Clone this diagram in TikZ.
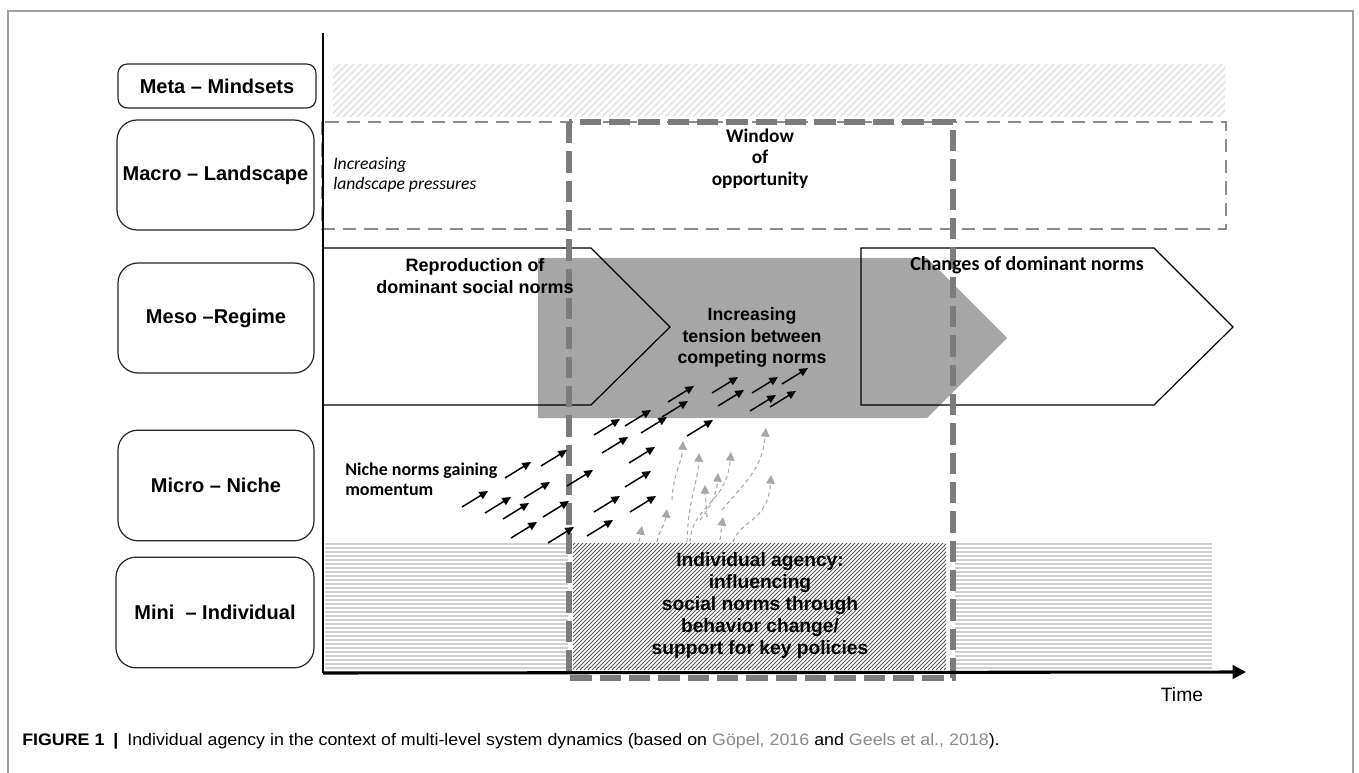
\documentclass[tikz,border=0pt]{standalone}
\usepackage{fontspec}
\usepackage{graphicx}
\setmainfont{Liberation Sans}
\newfontfamily\calib{Carlito}
\usetikzlibrary{arrows.meta}
\definecolor{framegray}{HTML}{A0A0A0}
\definecolor{arrowgray}{HTML}{A6A6A6}
\definecolor{wingray}{HTML}{7C7C7C}
\definecolor{macrogray}{HTML}{8C8C8C}
\definecolor{hatchlight}{HTML}{E2E2E2}
\definecolor{hlines}{HTML}{CFCFCF}
\definecolor{hatchdark}{HTML}{5A5A5A}
\definecolor{gdashc}{HTML}{A8A8A8}
\definecolor{citec}{HTML}{8A8A8A}
\tikzset{
  lvl/.style={draw=black!85, line width=0.9pt, rounded corners=15pt, inner sep=0pt,
    font=\bfseries\fontsize{15}{17}\selectfont, align=center},
  blk/.style={-{Triangle[length=6.5pt,width=6pt]}, line width=1.1pt, black},
  gdash/.style={-{Triangle[length=6.5pt,width=6.5pt]}, gdashc, line width=0.8pt, dash pattern=on 3pt off 2.5pt},
  arialtxt/.style={font=\bfseries\fontsize{13.3}{16.3}\selectfont, align=center, inner sep=0pt},
  caltxt/.style={font=\calib\bfseries\fontsize{14.5}{16}\selectfont, align=center, inner sep=0pt},
}
\begin{document}
\begin{tikzpicture}[x=0.75pt,y=-0.75pt]
\useasboundingbox (0,0) rectangle (1359,773);
% frame
\draw[framegray, line width=0.8pt] (8,773) -- (8,11) -- (1353,11) -- (1353,773);

% level boxes
\node[lvl, rounded corners=7pt, minimum width=148.5pt, minimum height=33pt] (meta) at (217,86) {Meta – Mindsets};
\node[lvl, minimum width=147.75pt, minimum height=82.5pt] (macro) at (215.5,175) {Macro – Landscape};
\node[lvl, minimum width=147pt, minimum height=82.5pt] (meso) at (216,318) {Meso –Regime};
\node[lvl, minimum width=147pt, minimum height=83pt] (micro) at (216,485.5) {Micro – Niche};
\node[lvl, minimum width=148.5pt, minimum height=83pt] (mini) at (215,612.5) {Mini\ \ – Individual};

% meta hatched band
\begin{scope}
\clip (333,65) rectangle (1225,117);
\foreach \k in {0,...,140} {
  \draw[hatchlight, line width=1.1pt] ({280+\k*7},117) -- ++(56,-56);
}
\end{scope}

% macro dashed rectangle
\draw[macrogray, line width=1.6pt, dash pattern=on 10pt off 6pt] (322,122) rectangle (1226,229);

% gray big arrow
\fill[arrowgray] (538,258) -- (927,258) -- (1007,338) -- (927,418) -- (538,418) -- cycle;

% pentagons
\draw[line width=0.9pt] (323,248) -- (591,248) -- (670,327) -- (591,405) -- (323,405);
\draw[line width=0.9pt] (861,248) -- (1154,248) -- (1233,327) -- (1154,405) -- (861,405) -- cycle;

% mini band horizontal lines
\foreach \k in {0,...,31} {
  \draw[hlines, line width=0.8pt] (325,{544+\k*4}) -- (568,{544+\k*4});
  \draw[hlines, line width=0.8pt] (955,{544+\k*4}) -- (1212,{544+\k*4});
}

% individual hatched box
\begin{scope}
\clip (573,543) rectangle (946,670);
\foreach \k in {0,...,130} {
  \draw[hatchdark, line width=0.7pt] ({440+\k*4},670) -- ++(130,-130);
}
\end{scope}

% window of opportunity
\draw[wingray, line width=4.5pt, dash pattern=on 16pt off 6pt] (569,122) rectangle (953,678);

% axes
\coordinate (top) at (323,33);
\coordinate (O) at (323,673);
\coordinate (tend) at (1246,672);
\draw[line width=1.1pt] (top) -- (O);
\draw[line width=2.3pt, -{Triangle[length=10pt,width=10pt]}] (O) -- (tend);

% texts
\node[anchor=west, align=left, inner sep=0pt, font=\calib\itshape\fontsize{13.2}{15}\selectfont] (press) at (333,175) {Increasing\\landscape pressures};
\node[caltxt] (window) at (760,158.5) {Window\\of\\opportunity};
\node[arialtxt, font=\bfseries\fontsize{13.5}{16.5}\selectfont] (repro) at (475,276) {Reproduction of\\dominant social norms};
\node[caltxt, font=\calib\bfseries\fontsize{15}{17}\selectfont] (changes) at (1027,265) {Changes of dominant norms};
\node[arialtxt] (tension) at (752,337.5) {Increasing\\tension between\\competing norms};
\node[anchor=west, align=left, inner sep=0pt, font=\calib\bfseries\fontsize{13.5}{15}\selectfont] (niche) at (345,479) {Niche norms gaining\\momentum};
\node[arialtxt, font=\bfseries\fontsize{14.4}{16.5}\selectfont] (agency) at (760,606) {Individual agency:\\influencing\\social norms through\\behavior change/\\support for key policies};
\node[inner sep=0pt, font=\fontsize{14.5}{17}\selectfont] (time) at (1182,695) {Time};
\node[anchor=west, inner sep=0pt, font=\fontsize{12.5}{14}\selectfont] (cap) at (22,741) {\scalebox{1.07}[1]{\textbf{FIGURE 1}\enspace\textbf{|}\enspace Individual agency in the context of multi-level system dynamics (based on \textcolor{citec}{Göpel, 2016} and \textcolor{citec}{Geels et al., 2018}).}};

% black arrows
\foreach \x/\y in {462/507,505/478,541/466,485/513,524/498,503/519,543/517,511/538,548/543,567/486,594/435,602/453,625/426,641/433,629/463,625/487,594/512,630/512,587/536,668/402,662/417,687/436,712/393,718/406,752/393,750/411,770/407,782/384} {
  \draw[blk] (\x,\y) -- ++(26,-16);
}

% gray dashed arrows
\draw[gdash] (639,542) -- (642,526);
\draw[gdash] (657,542) .. controls (659,530) and (665,525) .. (667,509);
\draw[gdash] (672,500) .. controls (673,475) and (682,462) .. (683,441);
\draw[gdash] (687,542) .. controls (688,500) and (698,482) .. (699,453);
\draw[gdash] (690,542) .. controls (692,505) and (726,505) .. (731,452);
\draw[gdash] (700,520) .. controls (712,505) and (717,492) .. (718,473);
\draw[gdash] (707,517) .. controls (707,505) and (705,498) .. (705,485);
\draw[gdash] (720,540) -- (723,517);
\draw[gdash] (722,510) .. controls (745,482) and (762,470) .. (766,428);
\draw[gdash] (733,542) .. controls (740,520) and (768,522) .. (771,475);
\end{tikzpicture}
\end{document}
